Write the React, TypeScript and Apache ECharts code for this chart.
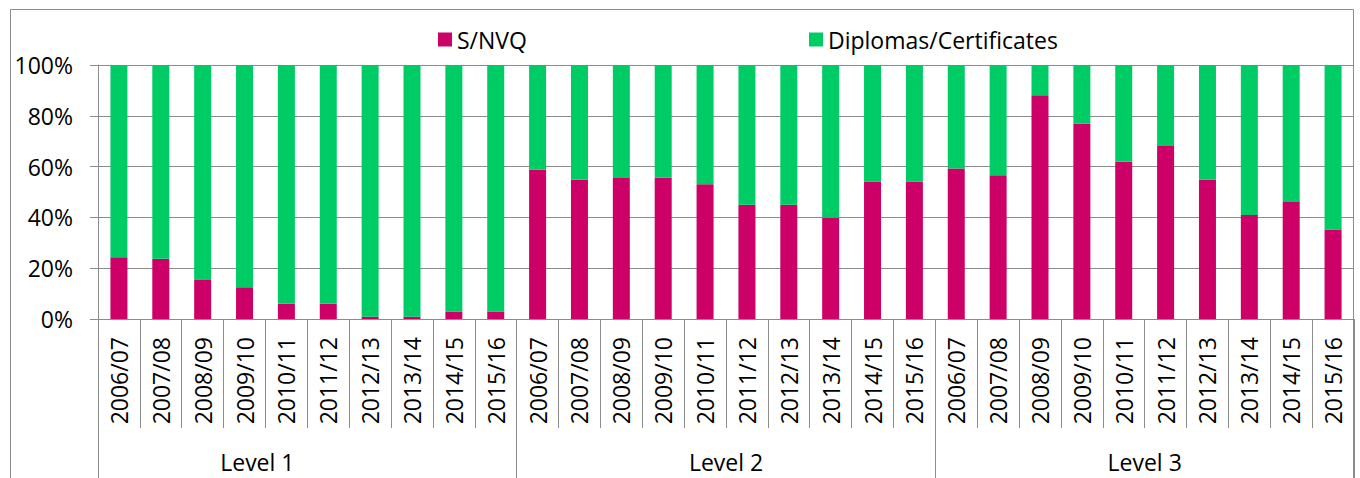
import React, { useEffect, useRef } from "react";
import * as echarts from "echarts";

const levels = ["Level 1", "Level 2", "Level 3"];
const years = [
  "2006/07", "2007/08", "2008/09", "2009/10", "2010/11",
  "2011/12", "2012/13", "2013/14", "2014/15", "2015/16",
];
const yTicks = [0, 20, 40, 60, 80, 100];

const snvqLevel1 = [24.3, 23.7, 15.6, 12.5, 6.0, 6.0, 0.9, 0.9, 2.9, 2.9];
const snvqLevel2 = [58.8, 54.8, 55.5, 55.6, 53.1, 45.0, 45.0, 39.9, 54.1, 54.1];
const snvqLevel3 = [59.3, 56.6, 88.1, 76.9, 61.9, 68.1, 54.8, 40.9, 46.1, 35.2];

const diplomaLevel1 = [75.7, 76.3, 84.4, 87.5, 94.0, 94.0, 99.1, 99.1, 97.1, 97.1];
const diplomaLevel2 = [41.2, 45.2, 44.5, 44.4, 46.9, 55.0, 55.0, 60.1, 45.9, 45.9];
const diplomaLevel3 = [40.7, 43.4, 11.9, 23.1, 38.1, 31.9, 45.2, 59.1, 53.9, 64.8];

const SNVQ = "S/NVQ";
const DIPLOMA = "Diplomas/Certificates";

const FONT = "'Open Sans', 'Noto Sans', sans-serif";
const GRAY = "#8c8c8c";

export default function App() {
  const ref = useRef<HTMLDivElement>(null);

  useEffect(() => {
    if (!ref.current) return;
    const chart = echarts.init(ref.current, null, { renderer: "svg" });

    const categories: string[] = [];
    levels.forEach((lv) => years.forEach((y) => categories.push(lv + "|" + y)));
    const snvq = [...snvqLevel1, ...snvqLevel2, ...snvqLevel3];
    const diploma = [...diplomaLevel1, ...diplomaLevel2, ...diplomaLevel3];

    chart.setOption({
      animation: false,
      backgroundColor: "#ffffff",
      textStyle: { fontFamily: FONT },
      graphic: [
        {
          type: "rect",
          shape: { x: 10.5, y: 9.5, width: 1343, height: 520 },
          style: { fill: "none", stroke: GRAY, lineWidth: 1 },
          silent: true,
          z: -10,
        },
      ],
      legend: [
        {
          data: [SNVQ],
          left: 438,
          top: 28,
          padding: 0,
          itemWidth: 14,
          itemHeight: 14,
          icon: "rect",
          itemGap: 6,
          textStyle: { fontFamily: FONT, fontSize: 23, color: "#000" },
        },
        {
          data: [DIPLOMA],
          left: 809,
          top: 28,
          padding: 0,
          itemWidth: 14,
          itemHeight: 14,
          icon: "rect",
          textStyle: { fontFamily: FONT, fontSize: 23, color: "#000" },
        },
      ],
      grid: { left: 98, right: 6, top: 65, bottom: 159, containLabel: false },
      xAxis: [
        {
          type: "category",
          data: categories,
          position: "bottom",
          offset: 0,
          axisLine: { show: true, lineStyle: { color: GRAY, width: 1 } },
          axisTick: {
            show: true,
            interval: 0,
            length: 109,
            alignWithLabel: false,
            lineStyle: { color: GRAY, width: 1 },
          },
          axisLabel: {
            interval: 0,
            rotate: 90,
            margin: 18,
            fontFamily: FONT,
            fontSize: 23,
            color: "#000",
            formatter: (v: string) => v.split("|")[1],
          },
          splitLine: { show: false },
        },
        {
          type: "category",
          data: levels,
          position: "bottom",
          offset: 0,
          axisLine: { show: false },
          axisTick: {
            show: true,
            interval: 0,
            length: 160,
            alignWithLabel: false,
            lineStyle: { color: GRAY, width: 1 },
          },
          axisLabel: {
            interval: 0,
            margin: 131,
            fontFamily: FONT,
            fontSize: 23,
            color: "#000",
            formatter: (v: string) => (v === levels[0] ? "{l1|" + v + "}" : v),
            rich: {
              l1: {
                fontFamily: FONT,
                fontSize: 23,
                color: "#000",
                padding: [0, 100, 0, 0],
              },
            },
          },
          splitLine: { show: false },
        },
      ],
      yAxis: {
        type: "value",
        min: yTicks[0],
        max: yTicks[yTicks.length - 1],
        interval: yTicks[1] - yTicks[0],
        axisLine: { show: true, lineStyle: { color: GRAY, width: 1 } },
        axisTick: { show: true, length: 8, inside: false, lineStyle: { color: GRAY, width: 1 } },
        axisLabel: {
          margin: 25,
          fontFamily: FONT,
          fontSize: 23,
          color: "#000",
          formatter: "{value}%",
        },
        splitLine: { show: true, lineStyle: { color: GRAY, width: 1 } },
      },
      series: [
        {
          name: SNVQ,
          type: "bar",
          stack: "total",
          xAxisIndex: 0,
          barWidth: 17,
          itemStyle: { color: "#CC0066" },
          data: snvq,
        },
        {
          name: DIPLOMA,
          type: "bar",
          stack: "total",
          xAxisIndex: 0,
          barWidth: 17,
          itemStyle: { color: "#00CC66" },
          data: diploma,
        },
      ],
    });

    return () => chart.dispose();
  }, []);

  return (
    <div
      ref={ref}
      style={{ position: "absolute", left: 0, top: 0, width: 1360, height: 478 }}
    />
  );
}
